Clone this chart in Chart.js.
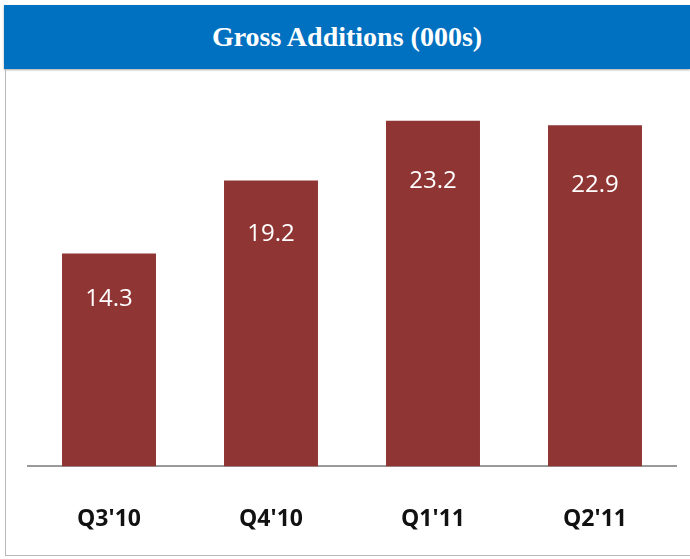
<!DOCTYPE html>
<html>
<head>
<meta charset="utf-8">
<script src="https://cdn.jsdelivr.net/npm/chart.js@4/dist/chart.umd.min.js"></script>
<style>
  html, body { margin: 0; padding: 0; background: #fff; }
  body { width: 690px; height: 559px; position: relative; overflow: hidden; }
  #header {
    position: absolute; left: 4px; top: 5px; width: 686px; height: 64px;
    background: #0070C0; color: #fff;
    font: bold 28px 'Liberation Serif', serif;
    text-align: center; line-height: 64px;
    box-shadow: 0 1px 2px rgba(0,0,0,.35);
  }
  #frame {
    position: absolute; left: 5px; top: 69px; width: 690px; height: 486px;
    border-left: 1px solid #b8b8b8; border-bottom: 1px solid #b8b8b8;
  }
  #wrap { position: absolute; left: 0; top: 70px; width: 690px; height: 494px; }
</style>
</head>
<body>
<div id="header">Gross Additions (000s)</div>
<div id="frame"></div>
<div id="wrap"><canvas id="c"></canvas></div>
<script>
const quarters = ["Q3'10", "Q4'10", "Q1'11", "Q2'11"];
const grossAdds = [14.3, 19.2, 23.2, 22.9];

const BAR_COLOR = '#8F3533';

// white value labels inside the bars, a bit below the top
const insideLabels = {
  id: 'insideLabels',
  afterDatasetsDraw(chart) {
    const ctx = chart.ctx;
    const meta = chart.getDatasetMeta(0);
    ctx.save();
    ctx.fillStyle = '#fff';
    ctx.font = "24px 'Open Sans', sans-serif";
    ctx.textAlign = 'center';
    ctx.textBaseline = 'middle';
    meta.data.forEach((bar, i) => {
      const h = bar.base - bar.y;
      ctx.fillText(grossAdds[i].toFixed(1), bar.x, bar.y + 23 + 0.107 * h);
    });
    ctx.restore();
  }
};

new Chart(document.getElementById('c'), {
  type: 'bar',
  data: {
    labels: quarters,
    datasets: [{
      data: grossAdds,
      backgroundColor: BAR_COLOR,
      borderWidth: 0,
      barPercentage: 1,
      categoryPercentage: 0.58,
    }]
  },
  options: {
    responsive: true,
    maintainAspectRatio: false,
    animation: false,
    layout: { padding: { left: 28, right: 14, top: 24, bottom: 0 } },
    plugins: { legend: { display: false }, tooltip: { enabled: false } },
    scales: {
      x: {
        grid: { display: false },
        border: { display: true, color: '#9a9a9a', width: 2 },
        ticks: {
          color: '#111',
          padding: 31,
          font: { family: "'Open Sans', sans-serif", size: 23, weight: 'bold' },
        },
      },
      y: {
        display: false,
        min: 0,
        max: 25,
      }
    }
  },
  plugins: [insideLabels]
});
</script>
</body>
</html>
